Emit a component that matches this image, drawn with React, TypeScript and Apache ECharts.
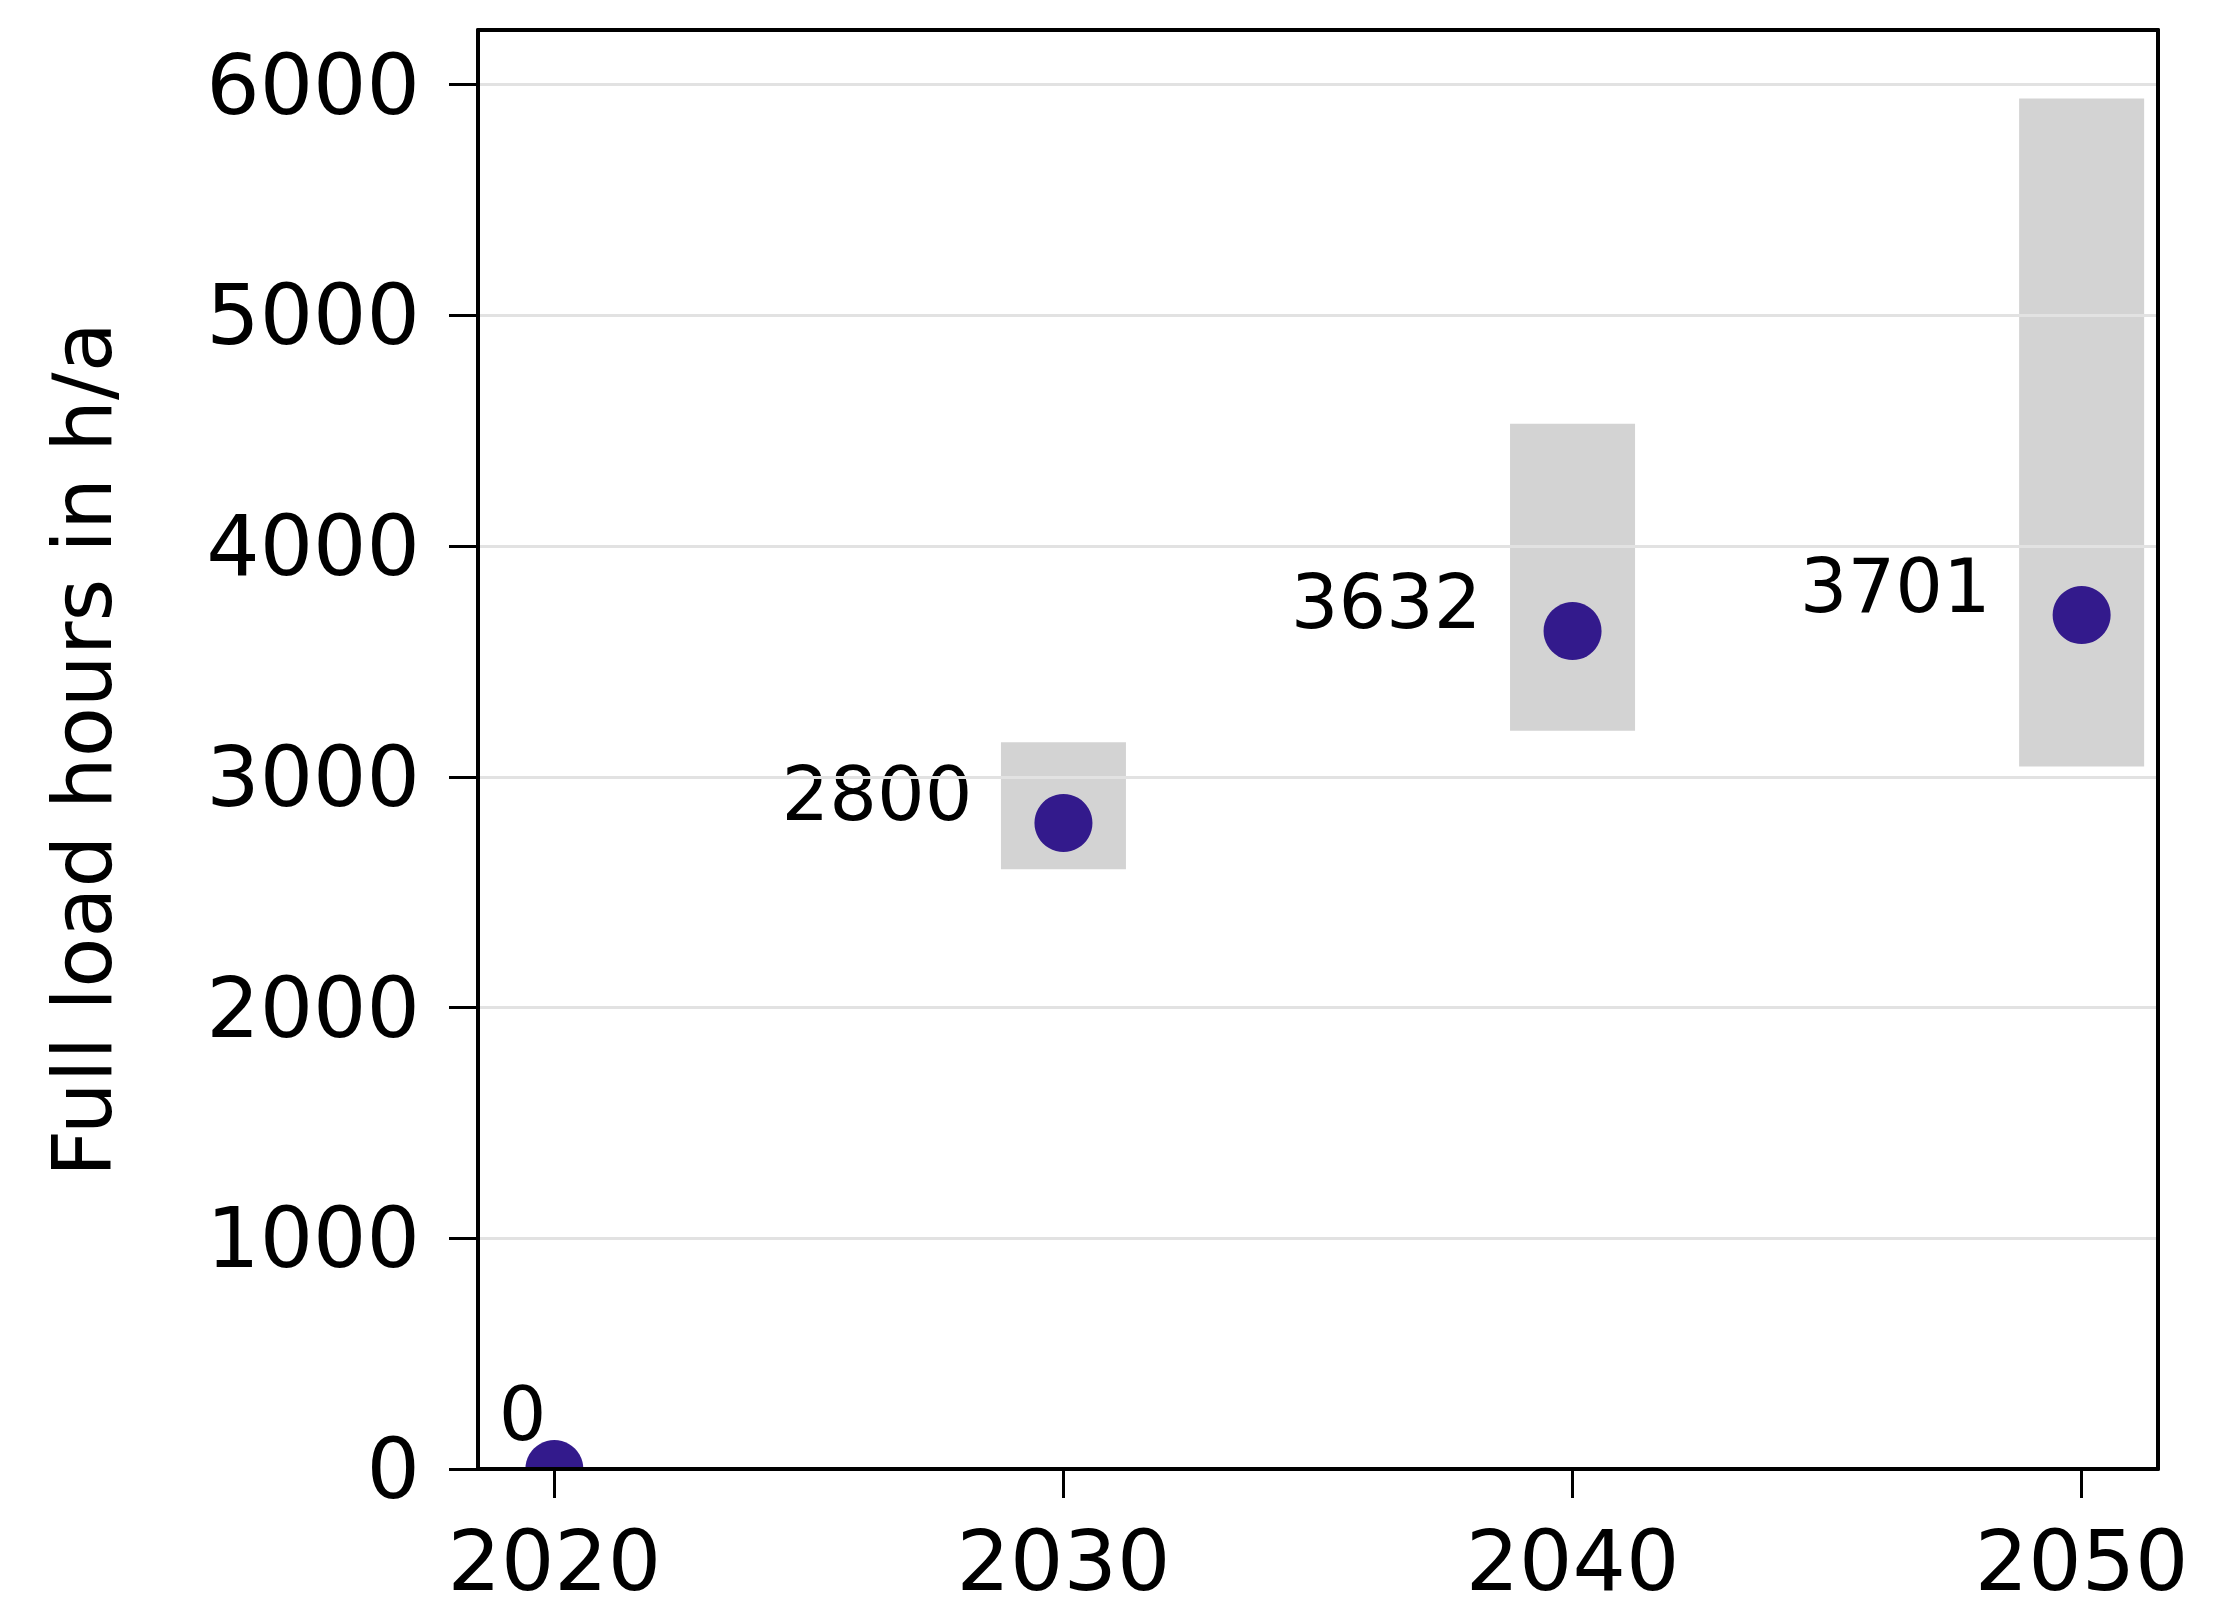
import React, { useEffect, useRef } from "react";
import * as echarts from "echarts";

// ---- data ----
const years = [2020, 2030, 2040, 2050];
const fullLoadHours = [0, 2800, 3632, 3701];
const rangeYears = [2030, 2040, 2050];
const rangeLow = [2600, 3200, 3045];
const rangeHigh = [3150, 4530, 5940];
const xTicks = [2020, 2030, 2040, 2050];
const yTicks = [0, 1000, 2000, 3000, 4000, 5000, 6000];
const yAxisTitle = "Full load hours in h/a";

const FONT = "DejaVu Sans";
const DOT_COLOR = "#331a8c";
const RANGE_COLOR = "#d3d3d3";

export default function App() {
  const ref = useRef<HTMLDivElement>(null);

  useEffect(() => {
    if (!ref.current) return;
    const chart = echarts.init(ref.current, undefined, { renderer: "svg" });

    const rangeData = rangeYears.map((y, i) => [y, rangeLow[i], rangeHigh[i]]);
    const pointData = years.map((y, i) => [y, fullLoadHours[i]]);
    const labelData = years.map((y, i) => {
      const first = i === 0;
      return {
        value: [y, fullLoadHours[i]],
        label: first
          ? { distance: 8, offset: [0, -55] }
          : { distance: 91, offset: [0, -29] },
      };
    });

    const spine = { show: true, onZero: false, lineStyle: { color: "#000", width: 4 } };

    chart.setOption({
      animation: false,
      backgroundColor: "#ffffff",
      grid: {
        left: 478,
        right: 55,
        top: 30,
        bottom: 150,
        show: false,
        containLabel: false,
      },
      xAxis: [
        {
          type: "value",
          min: 2018.5,
          max: 2051.5,
          z: 10,
          axisLine: spine,
          axisTick: {
            show: true,
            length: 29,
            lineStyle: { color: "#000", width: 3 },
            customValues: xTicks,
          },
          axisLabel: {
            customValues: xTicks,
            formatter: (v: number) => String(v),
            color: "#000",
            fontFamily: FONT,
            fontSize: 84,
            lineHeight: 84,
            margin: 50,
          },
          splitLine: { show: false },
        },
        {
          type: "value",
          position: "top",
          min: 2018.5,
          max: 2051.5,
          z: 10,
          axisLine: spine,
          axisTick: { show: false },
          axisLabel: { show: false },
          splitLine: { show: false },
        },
      ],
      yAxis: [
        {
          type: "value",
          min: 0,
          max: 6237,
          z: 10,
          name: yAxisTitle,
          nameLocation: "middle",
          nameRotate: 90,
          nameGap: 355,
          nameTextStyle: {
            color: "#000",
            fontFamily: FONT,
            fontSize: 82,
            lineHeight: 82,
          },
          axisLine: spine,
          axisTick: {
            show: true,
            length: 29,
            lineStyle: { color: "#000", width: 3 },
            customValues: yTicks,
          },
          axisLabel: {
            customValues: yTicks,
            formatter: (v: number) => String(v),
            color: "#000",
            fontFamily: FONT,
            fontSize: 84,
            lineHeight: 84,
            margin: 58,
          },
          splitLine: {
            show: true,
            lineStyle: { color: "#e2e2e2", width: 3 },
          },
        },
        {
          type: "value",
          position: "right",
          min: 0,
          max: 6237,
          z: 10,
          axisLine: spine,
          axisTick: { show: false },
          axisLabel: { show: false },
          splitLine: { show: false },
        },
      ],
      series: [
        {
          type: "custom",
          name: "range",
          clip: true,
          z: 2,
          data: rangeData,
          renderItem: (params: any, api: any) => {
            const x = api.value(0);
            const lo = api.value(1);
            const hi = api.value(2);
            const top = api.coord([x, hi]);
            const bot = api.coord([x, lo]);
            const w = 125;
            return {
              type: "rect",
              shape: { x: top[0] - w / 2, y: top[1], width: w, height: bot[1] - top[1] },
              style: { fill: RANGE_COLOR },
            };
          },
        },
        {
          type: "custom",
          name: "points",
          clip: true,
          z: 3,
          data: pointData,
          renderItem: (params: any, api: any) => {
            const c = api.coord([api.value(0), api.value(1)]);
            return {
              type: "circle",
              shape: { cx: c[0], cy: c[1], r: 29 },
              style: { fill: DOT_COLOR },
            };
          },
        },
        {
          type: "scatter",
          name: "labels",
          clip: false,
          z: 4,
          symbolSize: 0,
          silent: true,
          itemStyle: { opacity: 1 },
          data: labelData,
          label: {
            show: true,
            position: "left",
            formatter: (p: any) => String(p.value[1]),
            color: "#000000",
            opacity: 1,
            fontFamily: FONT,
            fontSize: 75,
          },
        },
      ],
    });

    return () => chart.dispose();
  }, []);

  return (
    <div
      ref={ref}
      style={{ position: "absolute", left: 0, top: 0, width: 2213, height: 1619 }}
    />
  );
}
